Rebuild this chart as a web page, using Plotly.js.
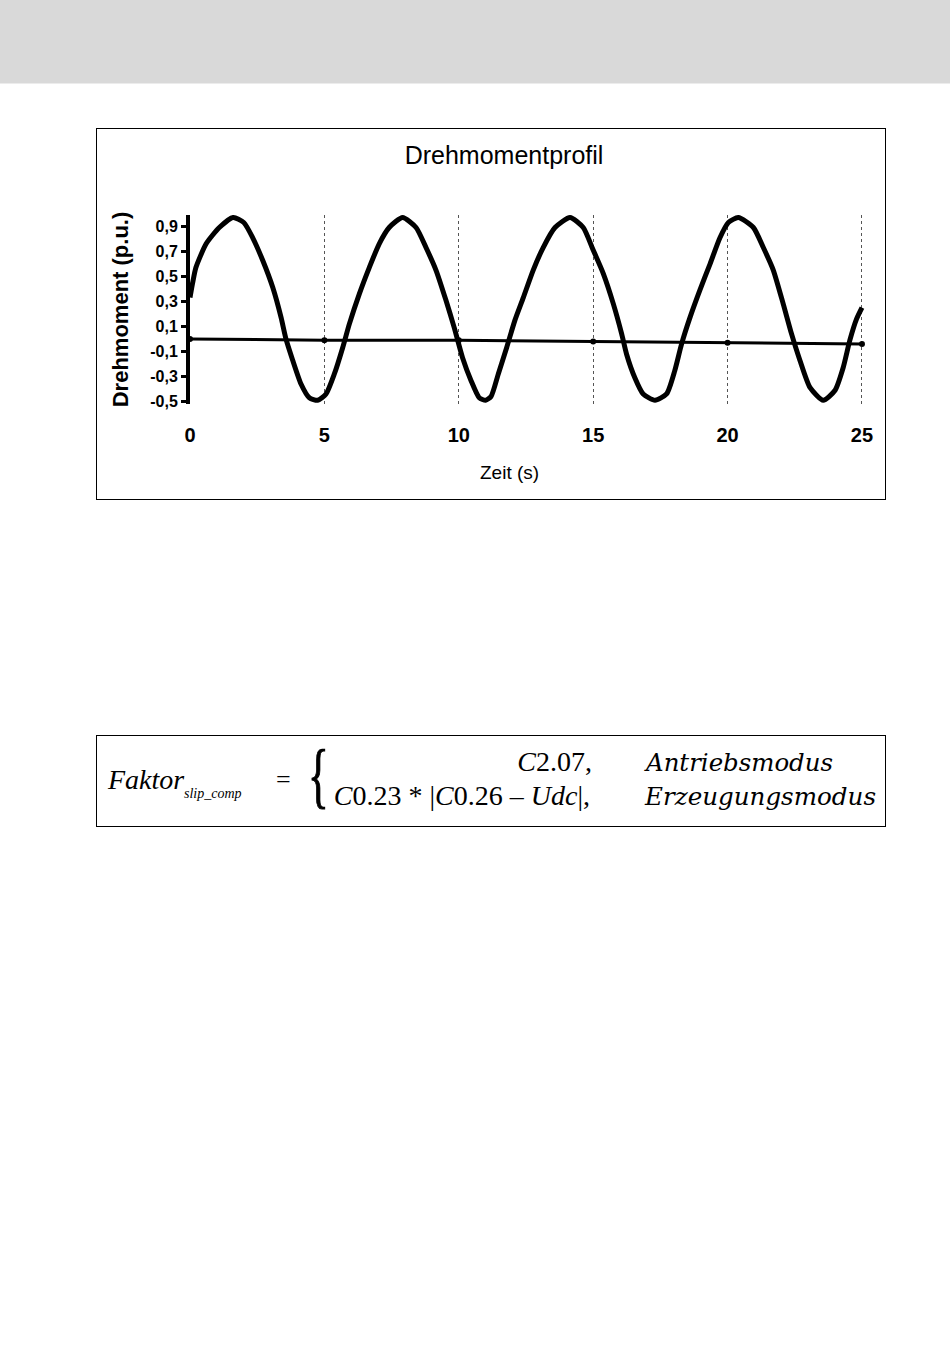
<!DOCTYPE html>
<html>
<head>
<meta charset="utf-8">
<script src="https://cdn.plot.ly/plotly-3.0.1.min.js"></script>
<style>
  html, body { margin:0; padding:0; background:#fff; width:950px; height:1348px; overflow:hidden; }
  #header { position:absolute; left:0; top:0; width:950px; height:83px; background:#d9d9d9; border-bottom:1px solid #ececec; }
  #chartbox { position:absolute; left:96px; top:128px; width:790px; height:372px; box-sizing:border-box; border:1px solid #000; }
  #chart { position:absolute; left:0; top:0; width:788px; height:370px; }
  #formula { position:absolute; left:96px; top:735px; overflow:visible; }
</style>
</head>
<body>
<div id="header"></div>
<div id="chartbox"><div id="chart"></div></div>
<svg id="formula" width="840" height="92" xmlns="http://www.w3.org/2000/svg">
  <rect x="0.5" y="0.5" width="789" height="91" fill="#fff" stroke="#000" stroke-width="1"/>
  <g font-family="'Liberation Serif', 'Times New Roman', serif" fill="#000">
    <text x="12" y="54" font-size="28" font-style="italic">Faktor</text>
    <text x="88" y="63" font-size="14" font-style="italic">slip_comp</text>
    <text x="180" y="53" font-size="26">=</text>
    <text transform="translate(212,64) scale(0.6,1)" font-size="72" stroke="#000" stroke-width="1.2">{</text>
    <text x="496" y="36" font-size="28" text-anchor="end"><tspan font-style="italic">C</tspan>2.07,</text>
    <text x="494" y="70" font-size="28" text-anchor="end"><tspan font-style="italic">C</tspan>0.23 * |<tspan font-style="italic">C</tspan>0.26 – <tspan font-style="italic">Udc</tspan>|,</text>
  </g>
  <g font-family="'DejaVu Serif', serif" font-style="italic" fill="#000" font-size="25">
    <text x="550" y="36" textLength="187" lengthAdjust="spacingAndGlyphs">Antriebsmodus</text>
    <text x="549" y="70" textLength="231" lengthAdjust="spacingAndGlyphs">Erzeugungsmodus</text>
  </g>
</svg>
<script>
// ---- data ----
const zeit = [0.0,0.1,0.22,0.6,1.09,1.6,2.0,2.33,2.70,3.08,3.39,3.57,3.82,4.13,4.44,4.75,5.06,5.37,5.68,5.93,
  6.3,6.67,7.04,7.41,7.91,8.41,8.78,9.15,9.52,9.83,10.14,10.45,10.76,11.0,11.2,11.47,11.78,12.09,12.4,12.77,
  13.14,13.58,14.14,14.63,15.0,15.38,15.75,16.06,16.24,16.55,16.86,17.3,17.73,18.04,18.29,18.6,18.97,19.35,
  19.72,20.03,20.4,20.96,21.33,21.7,22.07,22.38,22.69,23.07,23.56,24.0,24.3,24.55,24.8,25.0];
const drehmoment = [0.33,0.45,0.57,0.76,0.89,0.97,0.93,0.81,0.63,0.41,0.17,0.0,-0.17,-0.36,-0.47,-0.49,-0.44,-0.28,-0.07,0.12,
  0.36,0.57,0.76,0.89,0.97,0.89,0.73,0.55,0.31,0.09,-0.15,-0.33,-0.47,-0.49,-0.46,-0.28,-0.07,0.15,0.33,0.55,
  0.73,0.89,0.97,0.89,0.71,0.52,0.28,0.04,-0.12,-0.31,-0.44,-0.49,-0.44,-0.25,-0.04,0.17,0.39,0.6,
  0.81,0.93,0.97,0.89,0.73,0.55,0.28,0.04,-0.17,-0.39,-0.49,-0.41,-0.23,-0.01,0.16,0.25];
const basisZeit = [0,5,10,15,20,25];
const basisWert = [0.0,-0.01,-0.01,-0.02,-0.03,-0.04];
const xTickVals = [0,5,10,15,20,25];
const xTickText = ['0','5','10','15','20','25'];
const yTickVals = [0.9,0.7,0.5,0.3,0.1,-0.1,-0.3,-0.5];
const yTickText = ['0,9','0,7','0,5','0,3','0,1','-0,1','-0,3','-0,5'];

const FONT = "'Liberation Sans', Arial, sans-serif";

const traces = [
  { x: basisZeit, y: basisWert, type:'scatter', mode:'lines+markers',
    line:{color:'#000', width:3}, marker:{color:'#000', size:6}, hoverinfo:'skip' },
  { x: zeit, y: drehmoment, type:'scatter', mode:'lines',
    line:{color:'#000', width:5, shape:'spline', smoothing:0.6}, hoverinfo:'skip' }
];

const layout = {
  width: 788, height: 370,
  margin: {l:93, r:19, t:86, b:95},
  paper_bgcolor:'#fff', plot_bgcolor:'#fff',
  showlegend:false,
  font:{family:FONT, color:'#000'},
  title:{text:'Drehmomentprofil', font:{family:FONT, size:25, color:'#000'},
         x:407/788, xanchor:'center', xref:'container', y:1-26/370, yanchor:'middle', yref:'container'},
  xaxis:{
    range:[0,25.15], tickmode:'array', tickvals:xTickVals, ticktext:xTickText,
    showgrid:true, gridcolor:'#555', griddash:'dot', gridwidth:1,
    zeroline:false, showline:false, ticks:'',
    tickfont:{family:FONT, size:20, weight:'bold', color:'#000'},
    ticklabelstandoff:17, fixedrange:true
  },
  yaxis:{
    range:[-0.52,0.99], tickmode:'array', tickvals:yTickVals, ticktext:yTickText,
    showgrid:false, zeroline:false, showline:true, linewidth:4, linecolor:'#000',
    ticks:'outside', ticklen:5, tickwidth:3, tickcolor:'#000',
    tickfont:{family:FONT, size:16, weight:'bold', color:'#000'},
    title:{text:'Drehmoment (p.u.)', font:{family:FONT, size:22, weight:'bold', color:'#000'}, standoff:17},
    fixedrange:true
  },
  annotations:[
    {text:'Zeit (s)', xref:'paper', yref:'paper', x:(509-190)/676, y:0, xanchor:'center', yanchor:'middle',
     yshift:-68, showarrow:false, font:{family:FONT, size:19, color:'#000'}}
  ]
};

Plotly.newPlot('chart', traces, layout, {staticPlot:true, displayModeBar:false});
</script>
</body>
</html>
